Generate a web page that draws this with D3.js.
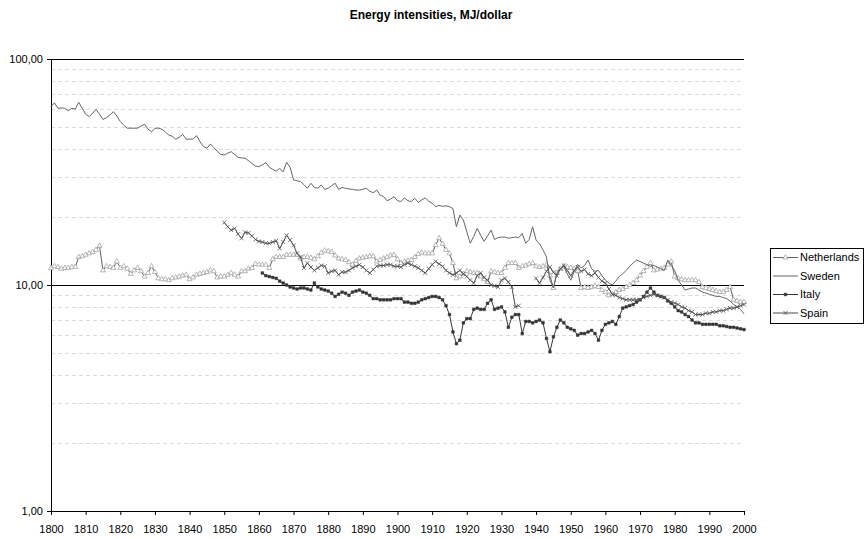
<!DOCTYPE html>
<html lang="en">
<head>
  <meta charset="UTF-8">
  <title>Energy intensities, MJ/dollar</title>
  <script src="https://d3js.org/d3.v7.min.js"></script>
  <style>
    body { margin: 0; background: #fff; }
    text { font-family: "Liberation Sans", Arial, sans-serif; }
  </style>
</head>
<body>
<svg width="865" height="539"></svg>
<script>
  // yearly values, MJ per dollar
  var swedenStart = 1800;
  var sweden = [
    61.5, 64, 60.5, 60.8, 60.5, 59, 60.5, 60, 64.3, 60.5,
    57, 55.6, 57.5, 59.8, 57, 54, 55, 56.5, 58.5, 56,
    52.9, 51, 49.4, 49.4, 49.4, 49.4, 50.5, 51.4, 49, 47.6,
    49.4, 49.4, 48.9, 47.5, 46.1, 45.5, 44.2, 45, 46.4, 44.2,
    44.2, 44.2, 45.8, 43, 41, 40.3, 42.1, 40.5, 39, 37.8,
    37.6, 38.3, 38.9, 37.8, 36.7, 36.5, 36.4, 35.5, 34.5, 33.6,
    33.4, 34, 34.8, 33.2, 32.5, 31.9, 32.8, 31.7, 34.9, 33.2,
    29.2, 28.9, 28.7, 27.8, 26.8, 28.2, 27, 26.8, 27.7, 26.5,
    26.8, 27.5, 28.2, 26.5, 27, 26.8, 26.6, 26.5, 26.3, 26.3,
    26.5, 26.8, 26, 25.6, 26.3, 25, 24.6, 23.6, 24, 24.6,
    23.6, 23.4, 24.3, 23.6, 23.4, 24.2, 23.2, 23.8, 24.3, 23.5,
    23, 22.2, 22.5, 22.3, 22.4, 22.2, 21.8, 18.1, 20.4, 19.4,
    17.2, 15.3, 16.4, 17.8, 16.6, 15.6, 16.5, 17.5, 15.9, 16.2,
    16.3, 16.3, 16.1, 16.2, 16.3, 16.2, 16.9, 15.3, 15.9, 18.1,
    15.8, 15.2, 14.3, 13.3, 10.5, 9.7, 11.3, 11.8, 12.1, 11.2,
    10.5, 11.5, 12.3, 11.9, 12.2, 12.9, 11.8, 11.5, 11.6, 11.0,
    10.5, 10.2, 10.0, 10.4, 10.9, 11.2, 11.6, 12.1, 12.5, 12.9,
    12.7, 12.5, 12.3, 12.1, 12.2, 12.0, 11.8, 11.6, 12.9, 12.2,
    11.6, 10.5, 10.0, 9.5, 9.6, 9.7, 9.7, 9.5, 9.3, 9.2,
    9.1, 9.0, 8.9, 8.9, 8.8, 8.7, 8.5, 8.2, 8.0, 7.8,
    7.45
  ];

  var netherlandsStart = 1800;
  var netherlands = [
    11.9, 12.1, 12.0, 11.8, 11.9, 11.9, 12.0, 12.0, 13.3, 13.4,
    13.6, 13.8, 14.0, 14.3, 14.9, 11.6, 12.1, 12.0, 11.9, 12.7,
    11.9, 12.1, 11.8, 11.2, 11.6, 11.9, 11.5, 10.9, 11.3, 12.1,
    11.4, 10.7, 10.6, 10.6, 10.5, 10.7, 10.8, 10.9, 11.0, 11.1,
    10.6, 10.8, 11.1, 11.2, 11.3, 11.4, 11.6, 11.5, 10.8, 10.9,
    10.9, 11.1, 11.3, 11.1, 10.9, 11.5, 11.5, 11.8, 11.9, 12.4,
    12.3, 12.3, 12.3, 11.9, 13.0, 13.3, 13.3, 13.3, 13.6, 13.6,
    13.6, 13.6, 13.1, 13.3, 13.3, 13.2, 13.0, 13.4, 13.9, 14.2,
    14.1, 14.0, 13.5, 13.1, 13.0, 12.9, 12.6, 12.3, 12.8, 13.1,
    13.2, 13.3, 13.4, 13.4, 12.7, 12.9, 13.1, 13.3, 13.5, 13.6,
    13.0, 12.5, 12.7, 12.8, 12.9, 13.3, 13.7, 13.9, 13.8, 13.8,
    13.8, 15.0, 16.1, 15.2, 14.3, 13.8, 12.5, 10.7, 10.9, 11.2,
    11.5, 11.4, 11.3, 11.3, 10.9, 10.6, 10.3, 11.5, 11.4, 11.3,
    11.3, 11.9, 12.5, 12.5, 12.5, 11.9, 12.1, 12.2, 12.4, 12.5,
    12.1, 12.0, 12.1, 12.3, 11.0, 9.7, 11.3, 11.8, 12.1, 12.0,
    11.9, 11.8, 11.5, 9.7, 9.8, 9.7, 9.8, 9.9, 9.8, 9.5,
    9.3, 9.0, 9.1, 9.3, 9.5, 9.6, 9.8, 10.0, 10.2, 10.5,
    11.0, 11.5, 12.0, 12.5, 11.6, 11.7, 11.8, 11.9, 12.3, 12.7,
    10.9, 10.7, 10.6, 10.5, 10.5, 10.5, 10.5, 10.3, 9.8, 9.7,
    9.6, 9.5, 9.4, 9.3, 9.3, 9.5, 9.8, 8.6, 8.5, 8.4,
    8.4
  ];

  var italyStart = 1861;
  var italy = [
    11.3, 11.0, 10.9, 10.8, 10.7, 10.4, 10.2, 10.0, 9.8,
    9.7, 9.6, 9.7, 9.7, 9.6, 9.5, 10.2, 9.8, 9.6, 9.5,
    9.4, 9.2, 8.9, 9.1, 9.3, 9.2, 9.0, 9.3, 9.4, 9.5,
    9.3, 9.2, 9.0, 8.7, 8.7, 8.6, 8.6, 8.6, 8.6, 8.7,
    8.7, 8.7, 8.4, 8.4, 8.3, 8.3, 8.4, 8.6, 8.7, 8.8,
    8.9, 8.9, 8.8, 8.6, 8.1, 7.4, 6.2, 5.5, 5.7, 6.8,
    7.1, 7.1, 7.8, 7.9, 7.8, 7.8, 8.3, 8.6, 7.8, 7.9,
    8.0, 7.6, 6.5, 7.2, 7.4, 7.4, 6.1, 6.9, 6.9, 6.8,
    6.9, 7.0, 6.8, 5.8, 5.07, 5.9, 6.5, 7.0, 6.8, 6.5,
    6.4, 6.3, 6.0, 6.1, 6.1, 6.2, 6.3, 6.1, 5.7, 6.3,
    6.7, 6.8, 6.9, 6.7, 7.25, 7.9, 8.0, 8.1, 8.2, 8.4,
    8.6, 8.9, 9.3, 9.7, 9.3, 9.0, 8.9, 8.8, 8.5, 8.3,
    8.0, 7.7, 7.6, 7.4, 7.25, 7.0, 6.8, 6.8, 6.7, 6.7,
    6.7, 6.7, 6.7, 6.6, 6.6, 6.55, 6.5, 6.5, 6.45, 6.4,
    6.35
  ];

  var spainStart = 1850;
  var spain = [
    18.9, 18.1, 17.5, 17.8, 16.8, 16.1, 17.1, 17.0, 16.5, 15.9,
    15.6, 15.5, 15.3, 15.3, 15.5, 15.7, 14.5, 15.5, 16.6, 15.8,
    15.0, 13.8, 13.3, 11.9, 12.5, 12.0, 11.6, 11.9, 12.2, 12.1,
    11.3, 11.5, 11.6, 11.1, 11.4, 11.4, 11.6, 11.9, 12.1, 12.3,
    12.0, 11.6, 11.3, 11.7, 12.1, 12.2, 12.2, 12.3, 12.3, 12.1,
    12.1, 12.0, 12.3, 12.5, 12.3, 12.1, 11.9, 11.6, 11.3, 11.8,
    12.3, 12.7, 12.4, 12.1, 11.6, 11.3, 11.1, 11.3, 11.6, 11.2,
    10.9, 10.5, 10.2, 11.0, 11.3, 10.8, 10.5, 10.0, 9.9, 9.8,
    10.5, 10.7, 10.3, 9.8, 8.0, 8.1, null, null, null, null,
    10.7, 10.2, 10.8, 11.5, 12.0, 11.4, 11.0, 11.8, 12.2, 11.6,
    11.0, 11.6, 12.0, 11.5, 11.7, 11.2, 11.0, 11.3, 10.8, 10.4,
    10.2, 9.6, 9.1, 9.0, 8.8, 8.7, 8.6, 8.6, 8.6, 8.6,
    8.6, 8.8, 8.9, 9.0, 9.1, 9.0, 8.9, 8.8, 8.6, 8.4,
    8.3, 8.2, 8.0, 7.9, 7.7, 7.6, 7.4, 7.4, 7.4, 7.5,
    7.5, 7.6, 7.6, 7.7, 7.7, 7.8, 7.9, 7.9, 8.0, 8.1,
    8.2
  ];

  var xTicks = d3.range(1800, 2001, 10);
  var yTicks = [1, 10, 100];
  var gridValues = [2, 3, 4, 5, 6, 7, 8, 9, 20, 30, 40, 50, 60, 70, 80, 90];

  function toPoints(start, values) {
    return values.map(function (v, i) {
      return {year: start + i, value: v};
    });
  }

  var series = [
    {name: 'Netherlands', points: toPoints(netherlandsStart, netherlands), line: '#5f5f5f', marker: 'triangle'},
    {name: 'Sweden', points: toPoints(swedenStart, sweden), line: '#666', marker: null},
    {name: 'Italy', points: toPoints(italyStart, italy), line: '#3a3a3a', marker: 'square'},
    {name: 'Spain', points: toPoints(spainStart, spain), line: '#4a4a4a', marker: 'cross'}
  ];

  var svg = d3.select('svg');
  var margin = {top: 59, left: 51, right: 121, bottom: 28};
  var width = +svg.attr('width') - margin.left - margin.right;
  var height = +svg.attr('height') - margin.top - margin.bottom;

  var x = d3.scaleLinear().domain([1800, 2000]).range([0, width]);
  var y = d3.scaleLog().domain([1, 100]).range([height, 0]);

  var locale = d3.formatLocale({decimal: ',', thousands: '.', grouping: [3], currency: ['', '']});
  var fmt = locale.format('.2f');

  svg.append('text')
    .attr('x', 431)
    .attr('y', 19)
    .attr('text-anchor', 'middle')
    .style('font-size', '12px')
    .style('font-weight', 'bold')
    .text('Energy intensities, MJ/dollar');

  var g = svg.append('g')
    .attr('transform', 'translate(' + margin.left + ',' + margin.top + ')');

  // light dashed minor grid
  g.selectAll('.grid')
    .data(gridValues)
    .enter().append('line')
    .attr('x1', 0)
    .attr('x2', width)
    .attr('y1', function (d) { return Math.round(y(d)) + 0.5; })
    .attr('y2', function (d) { return Math.round(y(d)) + 0.5; })
    .attr('stroke', '#dcdcdc')
    .attr('stroke-dasharray', '4,3');

  // major lines at 10 and 100
  g.selectAll('.major')
    .data([10, 100])
    .enter().append('line')
    .attr('x1', 0)
    .attr('x2', width)
    .attr('y1', function (d) { return Math.round(y(d)) + 0.5; })
    .attr('y2', function (d) { return Math.round(y(d)) + 0.5; })
    .attr('stroke', '#000');

  var yAxis = g.append('g')
    .call(d3.axisLeft(y).tickValues(yTicks).tickFormat(fmt).tickSize(4).tickPadding(4));
  var xAxis = g.append('g')
    .attr('transform', 'translate(0,' + height + ')')
    .call(d3.axisBottom(x).tickValues(xTicks).tickFormat(d3.format('d')).tickSize(4).tickPadding(10));

  [yAxis, xAxis].forEach(function (ax) {
    ax.select('.domain').attr('stroke', '#000');
    ax.selectAll('.tick line').attr('stroke', '#000');
    ax.selectAll('text')
      .attr('fill', '#000')
      .style('font-family', '"Liberation Sans", Arial, sans-serif')
      .style('font-size', '11px');
  });

  function markerPath(type) {
    if (type === 'triangle') return d3.symbol().type(d3.symbolTriangle).size(11)();
    if (type === 'square') return d3.symbol().type(d3.symbolSquare).size(7)();
    if (type === 'cross') return 'M-2,-2L2,2M-2,2L2,-2';
    return null;
  }

  function styleMarker(sel, s) {
    if (s.marker === 'triangle') {
      sel.attr('fill', '#fff').attr('stroke', '#a5a5a5').attr('stroke-width', 0.8);
    } else if (s.marker === 'square') {
      sel.attr('fill', '#333').attr('stroke', '#333').attr('stroke-width', 0.5);
    } else if (s.marker === 'cross') {
      sel.attr('fill', 'none').attr('stroke', '#555').attr('stroke-width', 0.8);
    }
  }

  var line = d3.line()
    .defined(function (d) { return d.value != null; })
    .x(function (d) { return x(d.year); })
    .y(function (d) { return y(d.value); });

  series.forEach(function (s) {
    g.append('path')
      .datum(s.points)
      .attr('fill', 'none')
      .attr('stroke', s.line)
      .attr('stroke-width', 1)
      .attr('stroke-linejoin', 'round')
      .attr('d', line);

    if (s.marker) {
      var m = g.append('g').selectAll('path')
        .data(s.points.filter(function (d) { return d.value != null; }))
        .enter().append('path')
        .attr('transform', function (d) { return 'translate(' + x(d.year) + ',' + y(d.value) + ')'; })
        .attr('d', markerPath(s.marker));
      styleMarker(m, s);
    }
  });

  // legend
  var legend = svg.append('g').attr('transform', 'translate(770,248)');
  legend.append('rect')
    .attr('x', 0.5)
    .attr('y', 0.5)
    .attr('width', 93)
    .attr('height', 75)
    .attr('fill', '#fff')
    .attr('stroke', '#000');

  var item = legend.selectAll('.item')
    .data(series)
    .enter().append('g')
    .attr('transform', function (d, i) { return 'translate(0,' + (9 + i * 18.5) + ')'; });

  item.append('line')
    .attr('x1', 3)
    .attr('x2', 28)
    .attr('y1', 0.5)
    .attr('y2', 0.5)
    .attr('stroke', function (d) { return d.line; });

  item.each(function (d) {
    if (d.marker) {
      var m = d3.select(this).append('path')
        .attr('transform', 'translate(15.5,0.5)')
        .attr('d', markerPath(d.marker));
      styleMarker(m, d);
    }
  });

  item.append('text')
    .attr('x', 30)
    .attr('y', 4)
    .style('font-size', '11px')
    .text(function (d) { return d.name; });
</script>
</body>
</html>
